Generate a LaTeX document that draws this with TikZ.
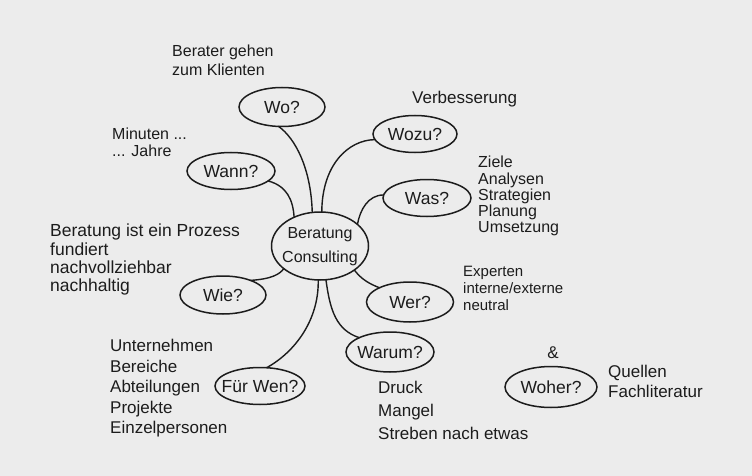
\documentclass[tikz,border=0pt]{standalone}
\usepackage{fontspec}
\setmainfont{Liberation Sans}
\usetikzlibrary{shapes.geometric}
\definecolor{paper}{RGB}{236,236,236}
\definecolor{ink}{RGB}{28,28,28}
\newcommand{\bubtext}[1]{\makebox[0pt]{#1}}
\begin{document}
\begin{tikzpicture}[x=1pt,y=-1pt,
  bubble/.style={draw=ink, line width=1.5pt, ellipse, inner sep=0pt, outer sep=0pt, text=ink, font=\fontsize{17.5}{18}\selectfont},
  link/.style={draw=ink, line width=1.4pt, line cap=round},
  note/.style={anchor=north west, inner sep=0pt, align=left, text=ink}]
\fill[paper] (0,0) rectangle (752,476);
\useasboundingbox (0,0) rectangle (752,476);

% bubbles
\node[bubble, minimum width=97pt, minimum height=68pt] (c) at (320,246)
  {\bubtext{\fontsize{16}{22}\selectfont\begin{tabular}{@{}c@{}}Beratung\\[2pt]Consulting\end{tabular}}};
\node[bubble, minimum width=86pt, minimum height=39pt] (wo) at (282,107) {\bubtext{Wo?}};
\node[bubble, minimum width=84pt, minimum height=37pt] (wozu) at (415,134) {\bubtext{Wozu?}};
\node[bubble, minimum width=88pt, minimum height=37pt] (wann) at (231,171) {\bubtext{Wann?}};
\node[bubble, minimum width=88pt, minimum height=37pt] (was) at (427,198) {\bubtext{Was?}};
\node[bubble, minimum width=86pt, minimum height=38pt] (wie) at (223,295) {\bubtext{Wie?}};
\node[bubble, minimum width=87pt, minimum height=40pt] (wer) at (410,302) {\bubtext{Wer?}};
\node[bubble, minimum width=88pt, minimum height=40pt] (warum) at (390,352) {\bubtext{Warum?}};
\node[bubble, minimum width=90pt, minimum height=37pt] (fw) at (260,386) {\bubtext{Für Wen?}};
\node[bubble, minimum width=92pt, minimum height=41pt] (woher) at (551,387) {\bubtext{Woher?}};

% connectors
\draw[link] (wo.260) .. controls (295,138) and (311,168) .. (c.103);
\draw[link] (wozu.188) .. controls (348,140) and (322,165) .. (c.87);
\draw[link] (wann.-15) .. controls (287,186) and (293,200) .. (c.132);
\draw[link] (was.176) .. controls (368,195) and (360,210) .. (c.30);
\draw[link] (wie.28) .. controls (272,279) and (280,274) .. (c.212);
\draw[link] (c.-35) .. controls (362,280) and (370,284) .. (wer.155);
\draw[link] (c.-80) .. controls (330,310) and (336,330) .. (warum.155);
\draw[link] (c.-93) .. controls (319,320) and (295,352) .. (fw.70);

% notes
\node[note, font=\fontsize{16}{19}\selectfont] (t1) at (172,45) {Berater gehen\\zum Klienten};
\node[note, font=\fontsize{17}{19}\selectfont] (t2) at (412,91) {Verbesserung};
\node[note, font=\fontsize{16}{17}\selectfont] (t3) at (112,128) {Minuten ...\\... Jahre};
\node[note, font=\fontsize{16}{16.3}\selectfont] (t4) at (478,156) {Ziele\\Analysen\\Strategien\\Planung\\Umsetzung};
\node[note, font=\fontsize{17.5}{18.3}\selectfont] (t5) at (50,224) {Beratung ist ein Prozess\\fundiert\\nachvollziehbar\\nachhaltig};
\node[note, font=\fontsize{15}{17}\selectfont] (t6) at (463,266) {Experten\\interne/externe\\neutral};
\node[note, font=\fontsize{17}{20.5}\selectfont] (t7) at (110,339) {Unternehmen\\Bereiche\\Abteilungen\\Projekte\\Einzelpersonen};
\node[note, font=\fontsize{17}{23}\selectfont] (t8) at (378,381) {Druck\\Mangel\\Streben nach etwas};
\node[text=ink, inner sep=0pt, font=\fontsize{17}{20}\selectfont] (t9) at (553,353) {\&};
\node[note, font=\fontsize{17}{20}\selectfont] (t10) at (608,365) {Quellen\\Fachliteratur};
\end{tikzpicture}
\end{document}
